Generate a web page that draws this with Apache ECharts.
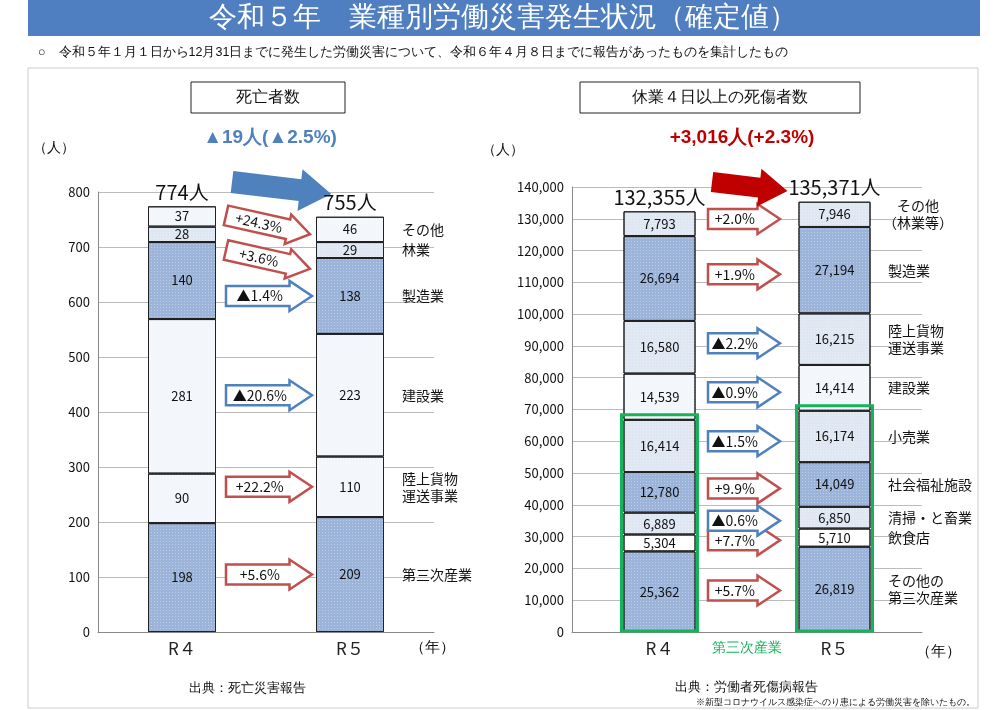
<!DOCTYPE html>
<html><head><meta charset="utf-8">
<script src="https://cdn.jsdelivr.net/npm/echarts@6/dist/echarts.min.js"></script>
<style>body{margin:0;background:#fff}#c{width:1006px;height:710px}</style>
</head><body><div id="c"></div>
<script>
// 死亡者数 (bottom -> top)
const deathNames = ['第三次産業', '陸上貨物\n運送事業', '建設業', '製造業', '林業', 'その他']
const deathR4 = [198, 90, 281, 140, 28, 37]
const deathR5 = [209, 110, 223, 138, 29, 46]
const deathChange = ['+5.6%', '+22.2%', '▲20.6%', '▲1.4%', '+3.6%', '+24.3%']
const deathTotals = ['774人', '755人']

// 休業4日以上の死傷者数 (bottom -> top)
const injNames = ['その他の\n第三次産業', '飲食店', '清掃・と畜業', '社会福祉施設', '小売業', '建設業', '陸上貨物\n運送事業', '製造業', 'その他\n（林業等）']
const injR4 = [25362, 5304, 6889, 12780, 16414, 14539, 16580, 26694, 7793]
const injR5 = [26819, 5710, 6850, 14049, 16174, 14414, 16215, 27194, 7946]
const injChange = ['+5.7%', '+7.7%', '▲0.6%', '+9.9%', '▲1.5%', '▲0.9%', '▲2.2%', '+1.9%', '+2.0%']
const injTotals = ['132,355人', '135,371人']

const cats = ['', 'R４', '', 'R５', '']
const BLUE = '#9db4da', LIGHT = '#f3f6fb', MID = '#dfe7f3'
const deathColors = [BLUE, LIGHT, LIGHT, BLUE, MID, LIGHT]
const injColors = [BLUE, '#ffffff', MID, BLUE, MID, LIGHT, MID, BLUE, MID]
const dots = {symbol: 'circle', symbolSize: 0.35, dashArrayX: [3, 0], dashArrayY: [3, 0], color: 'rgba(255,255,255,0.45)'}

const chart = echarts.init(document.getElementById('c'))

const mkSeries = (names, r4, r5, colors, idx) => names.map((n, i) => ({
  type: 'bar', stack: 's' + idx, xAxisIndex: idx, yAxisIndex: idx,
  barWidth: idx ? 72 : 68,
  data: [null, r4[i], null, r5[i], null],
  itemStyle: {color: colors[i], borderColor: '#222', borderWidth: 1, decal: dots},
  label: {show: true, color: '#111', fontSize: 13, fontFamily: 'Noto Sans CJK JP',
    formatter: p => p.value.toLocaleString('en-US')},
  emphasis: {disabled: true}
}))

const axisX = (g) => ({
  type: 'category', gridIndex: g, data: cats, boundaryGap: false,
  axisTick: {show: false}, axisLine: {lineStyle: {color: '#888'}},
  axisLabel: {fontSize: 17, color: '#222', margin: 8, interval: 0}
})
const axisY = (g, max, iv) => ({
  type: 'value', gridIndex: g, min: 0, max: max, interval: iv,
  axisLine: {show: true, lineStyle: {color: '#888'}},
  axisLabel: {fontSize: 13, color: '#111', formatter: v => v.toLocaleString('en-US')},
  splitLine: {lineStyle: {color: '#bbb'}}
})

chart.setOption({
  animation: false,
  textStyle: {fontFamily: 'Noto Sans CJK JP'},
  grid: [
    {left: 98, width: 336, top: 192, bottom: 78},
    {left: 572, width: 350, top: 187, bottom: 78}
  ],
  xAxis: [axisX(0), axisX(1)],
  yAxis: [axisY(0, 800, 100), axisY(1, 140000, 10000)],
  series: [...mkSeries(deathNames, deathR4, deathR5, deathColors, 0),
           ...mkSeries(injNames, injR4, injR5, injColors, 1)]
})

// decorations anchored to the bars
function arrow(x, y, len, h, H, color, fill, lw, rot, text, tcolor) {
  const hl = H * 0.75
  const pts = [[0, -h / 2], [len - hl, -h / 2], [len - hl, -H / 2], [len, 0], [len - hl, H / 2], [len - hl, h / 2], [0, h / 2]]
  const ch = [{type: 'polygon', shape: {points: pts}, style: {fill: fill, stroke: color, lineWidth: lw}}]
  if (text) ch.push({type: 'text', x: (len - hl) / 2 + 2, y: 0,
    style: {text: text, fill: tcolor, fontSize: 14, align: 'center', verticalAlign: 'middle', fontFamily: 'Noto Sans CJK JP'}})
  return {type: 'group', x: x, y: y, rotation: rot || 0, children: ch}
}

const g = []
const px = (gi, xi, v) => chart.convertToPixel({gridIndex: gi}, [xi, v])

function side(gi, names, r4, r5, change, labelX, ax0, alen, tilt) {
  let c4 = 0, c5 = 0
  names.forEach((n, i) => {
    const m4 = c4 + r4[i] / 2, m5 = c5 + r5[i] / 2
    c4 += r4[i]; c5 += r5[i]
    const y5 = px(gi, 3, m5)[1]
    const y4 = px(gi, 1, m4)[1]
    const up = change[i][0] === '+'
    const col = up ? '#c0504d' : '#4f81bd'
    let yA = gi === 0 ? y5 : (y4 + y5) / 2
    let rot = 0
    if (tilt && i === names.length - 1) { rot = -0.22; yA = y5 - 14 }
    if (tilt && i === names.length - 2) { rot = -0.22; yA = y5 }
    g.push(arrow(ax0, yA, alen, 20, 30, col, '#fff', 2.5, rot, change[i], '#111'))
    g.push({type: 'text', x: labelX, y: px(gi, 3, m5)[1],
      style: {text: n, fontSize: 14, fill: '#111', verticalAlign: 'middle', lineHeight: 17, fontFamily: 'Noto Sans CJK JP',
        align: gi === 1 && (i === 8) ? 'center' : 'left'}})
  })
  return [c4, c5]
}
const dt = side(0, deathNames, deathR4, deathR5, deathChange, 402, 226, 86, true)
const it = side(1, injNames, injR4, injR5, injChange, 888, 708, 72, false)
g[g.length - 1].x = 918

// totals
const tot = (gi, tots, vals, fs) => [1, 3].forEach((xi, k) => {
  const p = px(gi, xi, vals[k])
  g.push({type: 'text', x: p[0], y: p[1] - 4, style: {text: tots[k], fontSize: fs, fill: '#111', align: 'center', verticalAlign: 'bottom', fontFamily: 'Noto Sans CJK JP'}})
})
tot(0, deathTotals, dt, 20)
tot(1, injTotals, it, 20)

// big arrows
g.push(arrow(232, 182, 100, 22, 42, '#4f81bd', '#4f81bd', 0, -0.12))
g.push(arrow(712, 182, 76, 20, 38, '#c00000', '#c00000', 0, -0.12))

// green boxes for 第三次産業
const top5 = (arr) => arr.slice(0, 5).reduce((a, b) => a + b, 0)
;[[1, top5(injR4)], [3, top5(injR5)]].forEach(([xi, v]) => {
  const a = px(1, xi, v), b = px(1, xi, 0)
  g.push({type: 'rect', shape: {x: a[0] - 38, y: a[1] - 5, width: 76, height: b[1] - a[1] + 4},
    style: {fill: 'none', stroke: '#16b45a', lineWidth: 3}, z: 100})
})
g.push({type: 'text', x: 747, y: 648, style: {text: '第三次産業', fill: '#16b45a', fontSize: 14, align: 'center', verticalAlign: 'middle'}})

// static texts
g.push({type: 'rect', shape: {x: 28, y: 0, width: 952, height: 36}, style: {fill: '#4f7fc0'}})
g.push({type: 'text', x: 503, y: 18, style: {text: '令和５年　業種別労働災害発生状況（確定値）', fill: '#fff', fontSize: 28, align: 'center', verticalAlign: 'middle'}})
g.push({type: 'text', x: 38, y: 53, style: {text: '○　令和５年１月１日から12月31日までに発生した労働災害について、令和６年４月８日までに報告があったものを集計したもの', fill: '#111', fontSize: 12.5, verticalAlign: 'middle'}})
g.push({type: 'rect', shape: {x: 28, y: 68, width: 950, height: 640}, style: {fill: 'none', stroke: '#ccc', lineWidth: 1}})
;[[191, 82, 154, '死亡者数'], [580, 82, 280, '休業４日以上の死傷者数']].forEach(([x, y, w, t]) => {
  g.push({type: 'rect', shape: {x: x, y: y, width: w, height: 31}, style: {fill: '#fff', stroke: '#222', lineWidth: 1}})
  g.push({type: 'text', x: x + w / 2, y: y + 16, style: {text: t, fill: '#111', fontSize: 16, align: 'center', verticalAlign: 'middle'}})
})
g.push({type: 'text', x: 270, y: 138, style: {text: '▲19人(▲2.5%)', fill: '#4f81bd', fontSize: 19, fontWeight: 'bold', align: 'center', verticalAlign: 'middle'}})
g.push({type: 'text', x: 742, y: 138, style: {text: '+3,016人(+2.3%)', fill: '#c00000', fontSize: 19, fontWeight: 'bold', align: 'center', verticalAlign: 'middle'}})
g.push({type: 'text', x: 54, y: 148, style: {text: '（人）', fill: '#111', fontSize: 14, align: 'center', verticalAlign: 'middle'}})
g.push({type: 'text', x: 503, y: 150, style: {text: '（人）', fill: '#111', fontSize: 14, align: 'center', verticalAlign: 'middle'}})
g.push({type: 'text', x: 432, y: 648, style: {text: '（年）', fill: '#111', fontSize: 15, align: 'center', verticalAlign: 'middle'}})
g.push({type: 'text', x: 938, y: 652, style: {text: '（年）', fill: '#111', fontSize: 15, align: 'center', verticalAlign: 'middle'}})
g.push({type: 'text', x: 247, y: 688, style: {text: '出典：死亡災害報告', fill: '#111', fontSize: 13, align: 'center', verticalAlign: 'middle'}})
g.push({type: 'text', x: 746, y: 687, style: {text: '出典：労働者死傷病報告', fill: '#111', fontSize: 13, align: 'center', verticalAlign: 'middle'}})
g.push({type: 'text', x: 975, y: 703, style: {text: '※新型コロナウイルス感染症へのり患による労働災害を除いたもの。', fill: '#111', fontSize: 9, align: 'right', verticalAlign: 'middle'}})

chart.setOption({graphic: g.map(e => Object.assign({z: 50}, e))})
</script></body></html>
